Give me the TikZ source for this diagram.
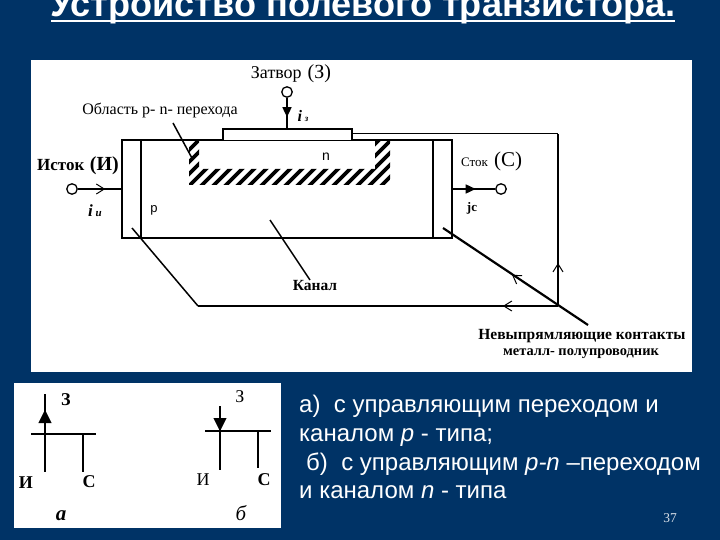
\documentclass[tikz,border=0pt]{standalone}
\usepackage{fontspec}
\setmainfont{Liberation Sans}
\newfontfamily\scan{Liberation Serif}
\usetikzlibrary{arrows.meta,decorations.markings}
\definecolor{navy}{HTML}{003366}
\tikzset{
  wire/.style={draw=black,line width=1.5pt},
  heavy/.style={draw=black,line width=2.2pt},
  term/.style={circle,draw=black,line width=1.3pt,fill=white,minimum size=10.5pt,inner sep=0pt},
  lbl/.style={font=\scan\fontsize{18}{18}\selectfont,text=black,inner sep=0pt},
  bold/.style={font=\scan\bfseries\fontsize{15.5}{15.5}\selectfont,text=black,inner sep=0pt},
  sym/.style={font=\scan\bfseries\fontsize{18}{18}\selectfont,text=black,inner sep=0pt},
  body/.style={font=\fontsize{24}{24}\selectfont,text=white,anchor=base west,inner sep=0pt},
  barb/.style={postaction={decorate,decoration={markings,mark=at position #1 with {\arrow[line width=1pt]{Straight Barb[length=8pt,width=10pt]}}}}},
  solid tip/.style={postaction={decorate,decoration={markings,mark=at position #1 with {\arrow{Triangle[length=10pt,width=9pt]}}}}},
  big tip/.style={postaction={decorate,decoration={markings,mark=at position #1 with {\arrow{Triangle[length=13pt,width=13pt]}}}}}
}
\begin{document}
\begin{tikzpicture}[x=1pt,y=-1pt]
\useasboundingbox (0,0) rectangle (720,540);
\fill[navy] (0,0) rectangle (720,540);
\fill[white] (31,60) rectangle (692,372);
\fill[white] (14,383) rectangle (281,528);
\node[font=\bfseries\fontsize{36.1}{36}\selectfont,text=white,inner sep=0pt,anchor=base] (title) at (363,17) {Устройство полевого транзистора.};
\coordinate (ulL) at (51,21);
\coordinate (ulR) at (675,21);
\draw[white,line width=2.6pt] (ulL) -- (ulR);

% hatched p-n region
\begin{scope}
\clip (189,140) -- (199,140) -- (199,169) -- (375,169) -- (375,140) -- (390,140) -- (390,185) -- (189,185) -- cycle;
\foreach \x in {125,137,...,420} \draw[line width=3.6pt] (\x,190) -- (\x+55,135);
\end{scope}

% semiconductor body and contacts
\draw[wire] (122,140) rectangle (452,238);
\draw[wire] (141,140) -- (141,238);
\draw[wire] (433,140) -- (433,238);
\draw[heavy] (141,238) -- (433,238);
\draw[wire,fill=white] (223,140) -- (223,129) -- (352,129) -- (352,140);

% terminals
\node[term] (gate) at (287,92) {};
\node[term] (source) at (72,189) {};
\node[term] (drain) at (501,189) {};
\coordinate (gatepad) at (287,129);
\coordinate (srcpad) at (122,189);
\coordinate (drnpad) at (452,189);
\draw[wire,solid tip=0.62] (gate) -- (gatepad);
\draw[wire,barb=0.62] (source) -- (srcpad);
\draw[wire,solid tip=0.55] (drnpad) -- (drain);

% external wiring
\coordinate (gateend) at (352,134);
\coordinate (corner1) at (558,134);
\coordinate (corner2) at (558,306);
\coordinate (corner3) at (198,306);
\coordinate (srcend) at (132,228);
\coordinate (drnend) at (443,228);
\coordinate (ctail) at (588,325);
\draw[line width=1pt] (gateend) -- (corner1);
\draw[wire,barb=0.25] (corner2) -- (corner1);
\draw[heavy,barb=0.153] (corner2) -- (corner3);
\draw[wire] (corner3) -- (srcend);
\draw[heavy] (drnend) -- (ctail);
\draw[draw=none,barb=0.4] (corner2) -- (drnend);

% leaders
\coordinate (chan1) at (270,220);
\coordinate (chan2) at (310,280);
\coordinate (reg1) at (173,123);
\coordinate (reg2) at (193,160);
\draw[wire] (chan1) -- (chan2);
\draw[wire] (reg1) -- (reg2);

% labels
\node[lbl] (l1) at (291,74) {Затвор\,\,{\fontsize{20}{20}\selectfont (З)}};
\node[lbl,font=\scan\fontsize{16}{16}\selectfont] (l2) at (160,110) {Область р- n- перехода};
\node[lbl,font=\scan\bfseries\fontsize{17}{17}\selectfont] (l3) at (78,166) {Исток\,\,{\fontsize{20}{20}\selectfont (И)}};
\node[bold,font=\scan\bfseries\itshape\fontsize{17}{17}\selectfont] (l4) at (95,211) {i\,{\fontsize{11}{11}\selectfont и}};
\node[lbl,font=\fontsize{13}{13}\selectfont] (l5) at (154,210) {р};
\node[lbl,font=\fontsize{14}{14}\selectfont] (l6) at (326,157) {n};
\node[bold,font=\itshape\bfseries\scan\fontsize{16}{16}\selectfont] (l7) at (303,116) {i\,{\fontsize{9}{9}\selectfont з}};
\node[lbl,anchor=west] (l8) at (461,161) {{\fontsize{13}{13}\selectfont Сток}\,\,{\fontsize{21}{21}\selectfont (С)}};
\node[bold,font=\scan\bfseries\fontsize{13}{13}\selectfont] (l9) at (472,208) {jc};
\node[bold] (l10) at (315,286) {Канал};
\node[bold] (l11) at (582,336) {Невыпрямляющие контакты};
\node[bold,font=\scan\bfseries\fontsize{14.4}{14.4}\selectfont] (l12) at (581,354) {металл- полупроводник};

% symbol a
\coordinate (a1) at (45,394); \coordinate (a2) at (45,472);
\coordinate (a3) at (31,434); \coordinate (a4) at (96,434);
\coordinate (a5) at (83,434); \coordinate (a6) at (83,472);
\draw[wire] (a1) -- (a2);
\draw[wire] (a3) -- (a4);
\draw[wire] (a5) -- (a6);
\coordinate (a7) at (45,424); \coordinate (a8) at (45,410);
\draw[draw=none,big tip=1] (a7) -- (a8);
\node[sym] (z1) at (66,400) {З};
\node[sym] (i1) at (26,483) {И};
\node[sym] (c1) at (89,482) {С};
\node[sym,font=\scan\bfseries\itshape\fontsize{21}{21}\selectfont] (n1) at (61,516) {а};

% symbol b
\coordinate (b1) at (220,406); \coordinate (b2) at (220,470);
\coordinate (b3) at (205,431); \coordinate (b4) at (271,431);
\coordinate (b5) at (258,431); \coordinate (b6) at (258,468);
\draw[wire] (b1) -- (b2);
\draw[wire] (b3) -- (b4);
\draw[wire] (b5) -- (b6);
\coordinate (b7) at (220,418); \coordinate (b8) at (220,431);
\draw[draw=none,big tip=1] (b7) -- (b8);
\node[sym,font=\scan\fontsize{18}{18}\selectfont] (z2) at (240,397) {З};
\node[sym,font=\scan\fontsize{18}{18}\selectfont] (i2) at (203,480) {И};
\node[sym] (c2) at (264,480) {С};
\node[sym,font=\scan\itshape\fontsize{21}{21}\selectfont] (n2) at (241,513) {б};

% description
\node[body] (t1) at (299,412) {а)\ \ с управляющим переходом и};
\node[body] (t2) at (299,441) {каналом \textit{р} - типа;};
\node[body] (t3) at (306,470) {б)\ \ с управляющим \textit{р-n} –переходом};
\node[body] (t4) at (299,498) {и каналом \textit{n} - типа};
\node[font=\scan\fontsize{13.5}{13.5}\selectfont,text=white!85!navy,inner sep=0pt] (pg) at (670,518) {37};
\end{tikzpicture}
\end{document}
